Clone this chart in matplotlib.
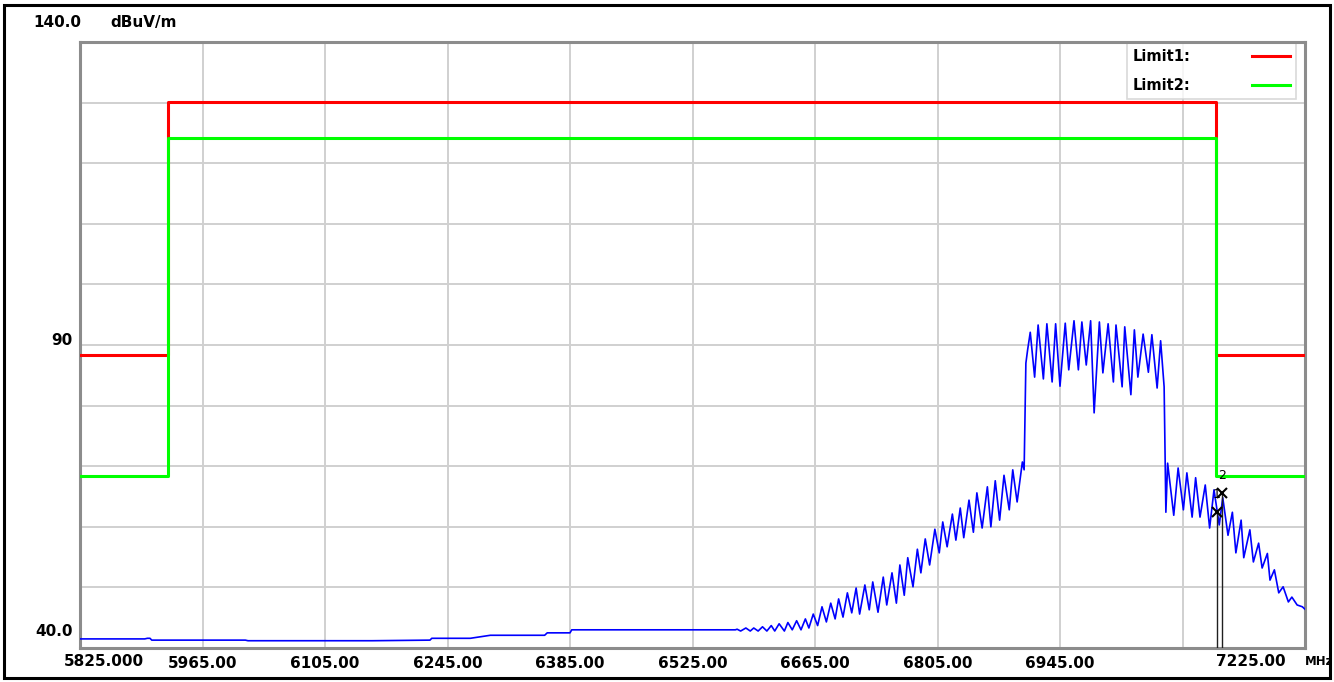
import matplotlib
matplotlib.use("Agg")
import matplotlib.pyplot as plt
import numpy as np

# Limit lines (MHz, dBuV/m)
limit_freq = [5825, 5925, 5925, 7123, 7123, 7225]
limit1_level = [88.3, 88.3, 130.1, 130.1, 88.3, 88.3]
limit2_level = [68.4, 68.4, 124.2, 124.2, 68.4, 68.4]

# Trace. Noise floor below the band
floor_freq = [5825, 5899, 5902, 5905, 5907, 6014, 6017, 6156, 6159, 6225, 6227,
              6271, 6294, 6356, 6359, 6385, 6387, 6574]
floor_level = [41.5, 41.5, 41.6, 41.6, 41.3, 41.3, 41.2, 41.2, 41.2, 41.3, 41.6,
               41.6, 42.1, 42.1, 42.5, 42.5, 43.0, 43.0]

# Lower skirt, peaks and troughs alternating
skirt_freq = [6576, 6580, 6586, 6591, 6595, 6600, 6605, 6610, 6615, 6619, 6624, 6630,
              6634, 6639, 6644, 6649, 6654, 6658, 6663, 6668, 6673, 6678, 6683, 6688,
              6692, 6697, 6702, 6707, 6712, 6716, 6722, 6727, 6731, 6737, 6743, 6747,
              6753, 6758, 6762, 6767, 6771, 6777, 6782, 6786, 6791, 6796, 6802, 6807,
              6811, 6816, 6822, 6826, 6831, 6835, 6841, 6846, 6850, 6856, 6862, 6866,
              6871, 6876, 6881, 6887, 6891, 6896, 6902, 6904]
skirt_level = [43.1, 42.8, 43.3, 42.8, 43.3, 42.8, 43.5, 42.8, 43.7, 42.8, 44.0, 42.8,
               44.2, 43.0, 44.5, 43.0, 44.8, 43.3, 45.6, 43.7, 46.8, 44.3, 47.4, 44.8,
               48.1, 45.1, 49.1, 45.8, 49.9, 45.6, 50.4, 46.3, 50.9, 45.9, 51.7, 47.1,
               52.4, 47.4, 53.7, 48.7, 54.9, 50.1, 56.3, 52.4, 58.0, 53.7, 59.6, 55.7,
               60.8, 56.7, 62.1, 57.8, 63.1, 58.2, 64.4, 59.1, 65.6, 59.8, 66.6, 60.0,
               67.6, 61.1, 68.5, 62.8, 69.4, 64.1, 70.7, 69.4]

# In-band part
band_freq = [6906, 6908, 6911, 6916, 6920, 6926, 6930, 6936, 6940, 6945, 6951, 6955,
             6961, 6966, 6970, 6975, 6980, 6984, 6990, 6994, 7000, 7006, 7009, 7016,
             7019, 7026, 7030, 7034, 7040, 7046, 7050, 7056, 7060, 7064]
band_level = [87.0, 89.2, 92.1, 84.7, 93.3, 84.4, 93.5, 83.9, 93.5, 83.2, 93.6, 85.9,
              94.0, 85.9, 93.8, 86.7, 94.0, 78.8, 93.8, 85.4, 93.5, 83.9, 93.3, 83.1,
              93.0, 81.8, 92.5, 84.7, 91.8, 85.5, 91.7, 82.9, 90.7, 83.1]

# Upper skirt
upper_freq = [7066, 7068, 7075, 7080, 7086, 7090, 7096, 7100, 7105, 7111, 7116, 7121,
              7127, 7131, 7137, 7142, 7146, 7152, 7155, 7162, 7166, 7172, 7176, 7182,
              7185, 7190, 7195, 7200, 7206, 7210, 7216, 7222, 7225]
upper_level = [62.4, 70.5, 61.9, 69.7, 62.8, 68.9, 61.6, 68.1, 61.6, 66.9, 59.8, 66.1,
               60.3, 64.8, 58.6, 62.4, 55.7, 61.1, 54.9, 59.5, 54.2, 57.3, 53.2, 55.6,
               51.2, 52.9, 49.1, 50.1, 47.6, 48.4, 47.1, 46.8, 46.4]

# Markers
marker_freq = [7124, 7130]
marker_level = [62.4, 65.6]
marker_name = ["1", "2"]

xtick_freq = [5965, 6105, 6245, 6385, 6525, 6665, 6805, 6945, 7085]
xtick_text = ["5965.00", "6105.00", "6245.00", "6385.00", "6525.00", "6665.00",
              "6805.00", "6945.00", ""]

trace_freq = floor_freq + skirt_freq + band_freq + upper_freq
trace_level = floor_level + skirt_level + band_level + upper_level

W, H = 1334, 682
fig = plt.figure(figsize=(W / 100, H / 100), dpi=100)
ax = fig.add_axes([80 / W, (H - 648) / H, 1225 / W, 606 / H])

font = dict(family="DejaVu Sans", weight="bold", size=11)

ax.set_xlim(5825, 7225)
ax.set_ylim(40, 140)
ax.set_xticks(xtick_freq)
ax.set_xticklabels(xtick_text, **font)
ax.set_yticks(np.arange(50, 140, 10))
ax.set_yticklabels([])
ax.tick_params(length=0, pad=6)
ax.grid(True, color="#d0d0d0", linewidth=1.4)
for s in ax.spines.values():
    s.set_color("#8c8c8c")
    s.set_linewidth(2.2)

ax.plot(trace_freq, trace_level, color="#0000ff", linewidth=1.2, zorder=3)
ax.plot(limit_freq, limit1_level, color="#ff0000", linewidth=2.2, label="Limit1:", zorder=4)
ax.plot(limit_freq, limit2_level, color="#00ff00", linewidth=2.2, label="Limit2:", zorder=4)

# marker lines down to the axis
ax.vlines(marker_freq, 40, marker_level, color="#202020", linewidth=1.0, zorder=5)
ax.plot(marker_freq, marker_level, "x", color="black", markersize=7, mew=1.5, zorder=6)
for f, lv, name in zip(marker_freq, marker_level, marker_name):
    ax.text(f, lv + 1.8, name, ha="center", va="bottom", fontsize=9, color="black", zorder=6)

leg = ax.legend(loc="upper right", markerfirst=False, frameon=True, fancybox=False,
                prop=dict(family="DejaVu Sans", weight="bold", size=10.5),
                handlelength=2.6, handletextpad=4.2, borderpad=0.4, labelspacing=0.95,
                borderaxespad=0.1, bbox_to_anchor=(0.9935, 1.0))
leg.get_frame().set_edgecolor("#d0d0d0")
leg.get_frame().set_linewidth(1.2)
leg.set_zorder(2)

# y labels
yax = ax.get_yaxis_transform()
ax.text(-0.006, 90.8, "90", transform=yax, ha="right", va="center", **font)
ax.text(-0.006, 42.8, "40.0", transform=yax, ha="right", va="center", **font)
ax.text(-0.038, 143.3, "140.0", transform=yax, ha="left", va="center", clip_on=False, **font)
ax.text(0.025, 143.3, "dBuV/m", transform=yax, ha="left", va="center", clip_on=False, **font)

# end labels on the x axis
xax = ax.get_xaxis_transform()
ax.text(5852, -0.023, "5825.000", transform=xax, ha="center", va="center", **font)
ax.text(7163, -0.023, "7225.00", transform=xax, ha="center", va="center", **font)
ax.text(1.0, -0.023, "MHz", transform=ax.transAxes, ha="left", va="center",
        clip_on=False, family="DejaVu Sans", weight="bold", size=8.5)

# outer frame
fig.patches.append(plt.Rectangle((4 / W, 4 / H), (W - 8) / W, (H - 9) / H,
                                 transform=fig.transFigure, fill=False,
                                 edgecolor="black", linewidth=2.2))

fig.savefig("out.png", dpi=100)
